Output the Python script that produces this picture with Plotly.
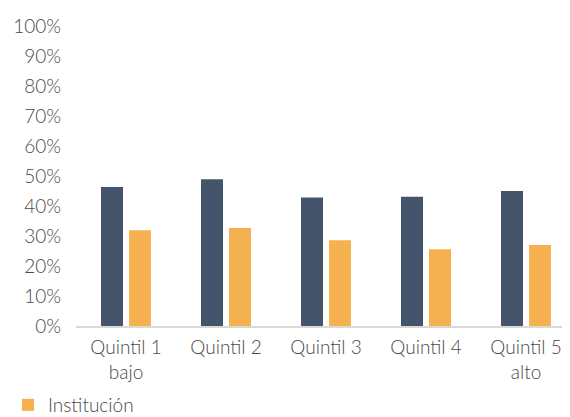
import plotly.graph_objects as go

categories = ["Quintil 1<br>bajo", "Quintil 2", "Quintil 3", "Quintil 4", "Quintil 5<br>alto"]
series_a_name = "Sistema"
series_a = [46.3, 48.9, 42.8, 43.1, 45.0]
series_b_name = "Institución"
series_b = [31.9, 32.7, 28.6, 25.6, 27.0]
y_ticks = list(range(0, 101, 10))
y_tick_labels = [f"{v}%" for v in y_ticks]

FONT = "Lato"
TXT = "#4a4a4a"
FS = 19

# page body has an 8px default margin; figure sized to fill the rest of the window
W, H = 562, 409

fig = go.Figure()
fig.add_trace(go.Bar(x=categories, y=series_a, name=series_a_name,
                     marker=dict(color="#44546A", line=dict(width=0)),
                     showlegend=False))
fig.add_trace(go.Bar(x=categories, y=series_b, name=series_b_name,
                     marker=dict(color="#F5B04F", line=dict(width=0))))

fig.update_layout(
    width=W, height=H,
    margin=dict(l=68, r=0, t=18, b=91, autoexpand=False),
    paper_bgcolor="white", plot_bgcolor="white",
    barmode="group", bargap=0.44, bargroupgap=0.214,
    font=dict(family=FONT, size=FS, color=TXT, weight=300),
    legend=dict(orientation="h", xref="container", yref="container",
                x=0, xanchor="left", y=12/H, yanchor="middle",
                font=dict(family=FONT, size=FS, color=TXT, weight=300),
                itemwidth=30, tracegroupgap=0, bgcolor="rgba(0,0,0,0)"),
    xaxis=dict(range=[-0.5, 4.44], showline=True, linecolor="#D9D9D9", linewidth=2,
               ticks="", showgrid=False, zeroline=False, automargin=False,
               ticklabelstandoff=3,
               tickfont=dict(family=FONT, size=FS, color=TXT, weight=300)),
    yaxis=dict(range=[0, 100], tickvals=y_ticks, ticktext=y_tick_labels,
               showgrid=False, zeroline=False, showline=False, ticks="",
               ticklabelstandoff=14, automargin=False,
               tickfont=dict(family=FONT, size=FS, color=TXT, weight=300)),
)

fig.write_html("out.html")
